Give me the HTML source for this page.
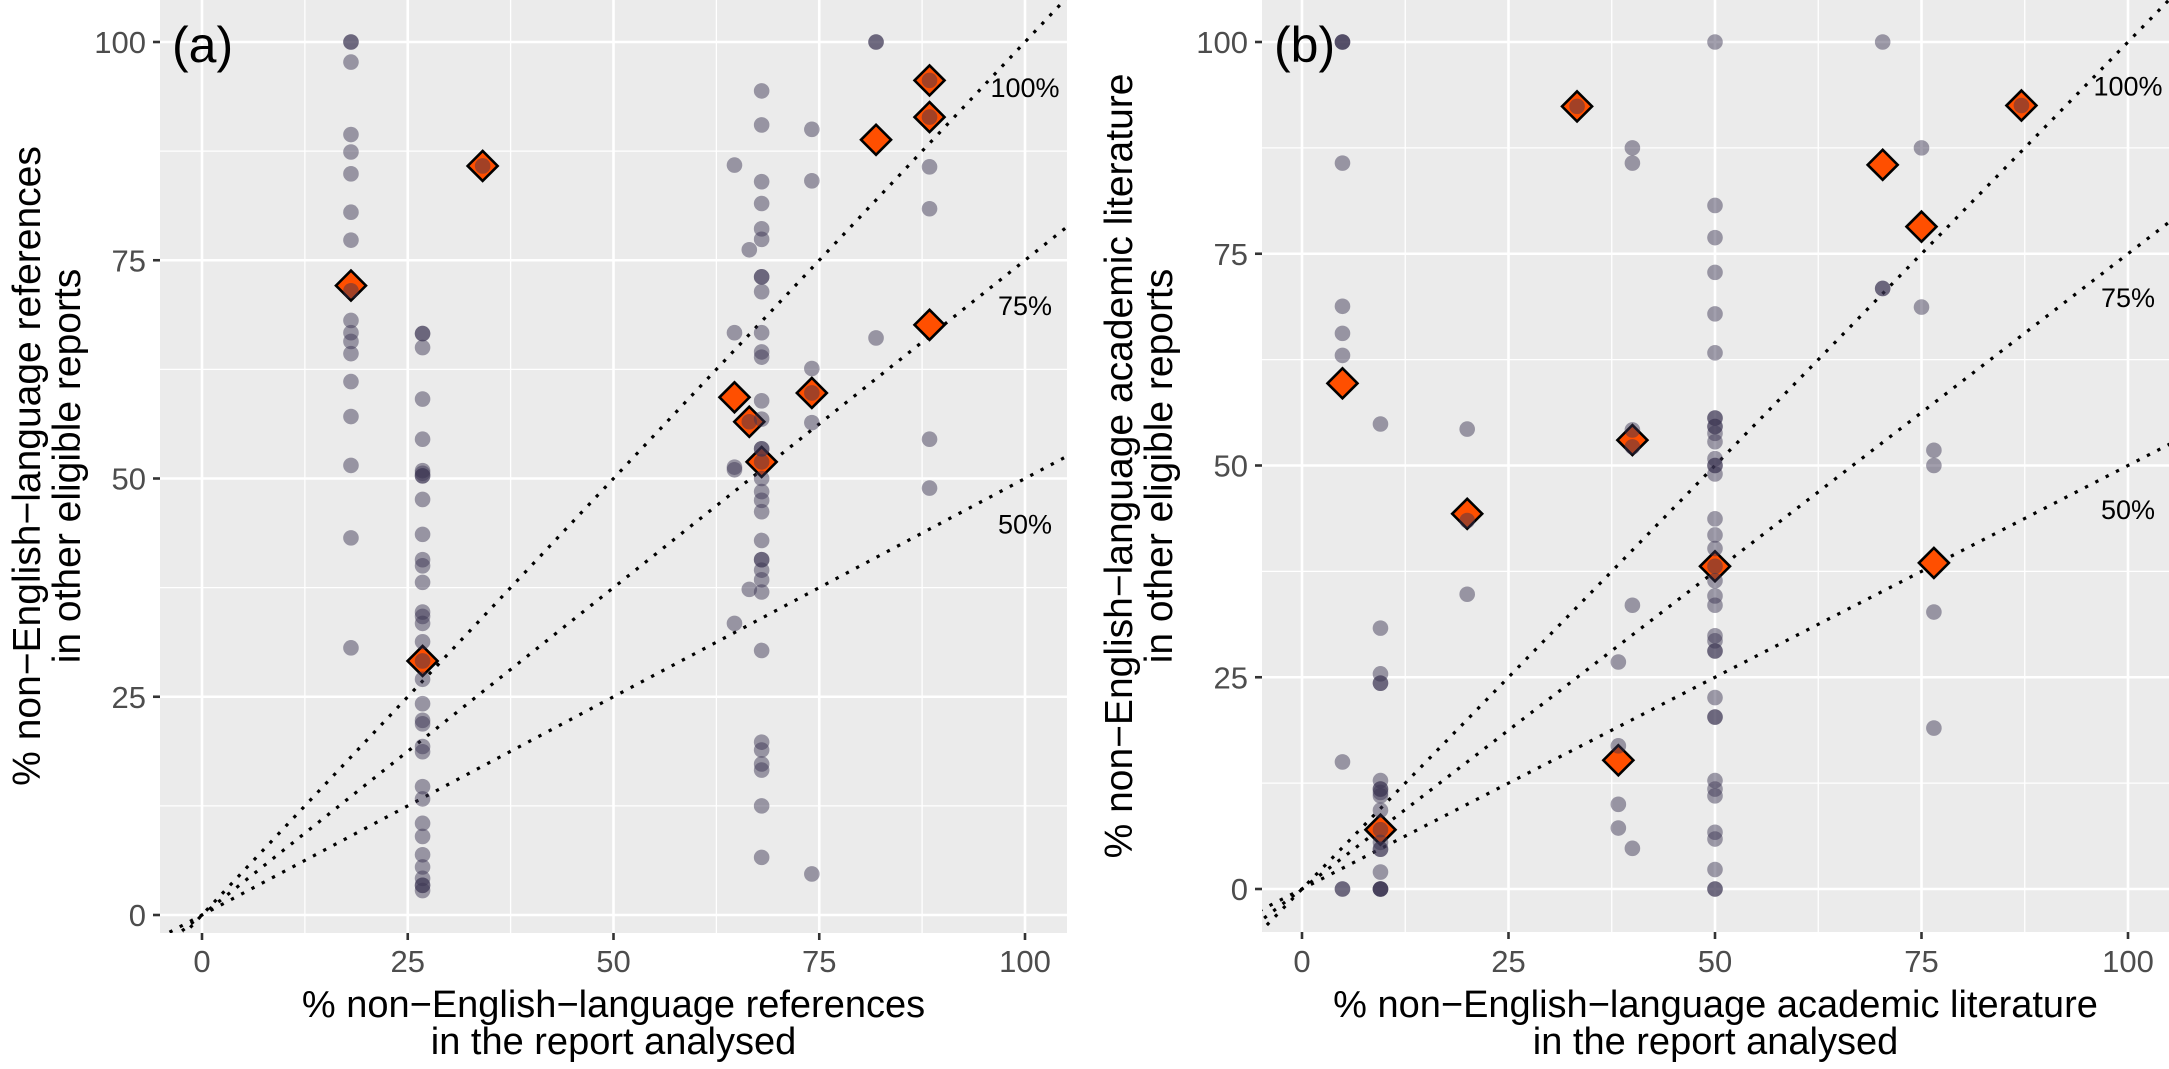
<!DOCTYPE html>
<html><head><meta charset="utf-8"><style>
html,body{margin:0;padding:0;background:#fff;}
svg{display:block;}
text{font-family:"Liberation Sans",sans-serif;}
</style></head><body>
<svg id="s" width="2169" height="1069" xmlns="http://www.w3.org/2000/svg">
<defs>
<clipPath id="ca"><rect x="160" y="0" width="907" height="933"/></clipPath>
<clipPath id="cb"><rect x="1262" y="0" width="907" height="932"/></clipPath>
</defs>
<g id="ga"></g><g id="gb"></g>
</svg>
<script>
var NS="http://www.w3.org/2000/svg";
function el(p,t,a,txt){var e=document.createElementNS(NS,t);for(var k in a)e.setAttribute(k,a[k]);if(txt!==undefined)e.textContent=txt;p.appendChild(e);return e;}
function panel(g,cfg){
  var X=function(x){return cfg.x0+cfg.sx*x;}, Y=function(y){return cfg.y0-cfg.sy*y;};
  el(g,'rect',{x:cfg.L,y:0,width:cfg.R-cfg.L,height:cfg.B,fill:'#ebebeb'});
  var c=el(g,'g',{'clip-path':'url(#'+cfg.clip+')'});
  for(var v=-12.5;v<=112.5;v+=12.5){
    var maj=(v%25===0);
    el(c,'line',{x1:X(v),x2:X(v),y1:0,y2:cfg.B,stroke:'#fff','stroke-width':maj?2.6:1.3});
    el(c,'line',{x1:cfg.L,x2:cfg.R,y1:Y(v),y2:Y(v),stroke:'#fff','stroke-width':maj?2.6:1.3});
  }
  [1,0.75,0.5].forEach(function(s){
    el(c,'line',{x1:X(-10),y1:Y(-10*s),x2:X(110),y2:Y(110*s),stroke:'#000','stroke-width':3.2,'stroke-dasharray':'0.1 11.5','stroke-linecap':'square'});
    el(g,'text',{x:X(100),y:Y(s*100-6.3),'text-anchor':'middle','font-size':27,fill:'#000'},Math.round(s*100)+'%');
  });
  cfg.d.forEach(function(p){var x=X(p[0]),y=Y(p[1]),h=15;
    el(c,'polygon',{points:(x)+','+(y-h)+' '+(x+h)+','+y+' '+x+','+(y+h)+' '+(x-h)+','+y,fill:'#ff4f00',stroke:'#000','stroke-width':2.6});});
  cfg.p.forEach(function(col){var x=col[0];col[1].forEach(function(y){
    el(c,'circle',{cx:X(x),cy:Y(y),r:7.8,fill:'#3a3350','fill-opacity':0.47});});});
  [0,25,50,75,100].forEach(function(v){
    el(g,'line',{x1:cfg.L-7,x2:cfg.L,y1:Y(v),y2:Y(v),stroke:'#333','stroke-width':2.6});
    el(g,'text',{x:cfg.L-14,y:Y(v)+11,'text-anchor':'end','font-size':31,fill:'#4d4d4d'},v);
    el(g,'line',{x1:X(v),x2:X(v),y1:cfg.B,y2:cfg.B+7,stroke:'#333','stroke-width':2.6});
    el(g,'text',{x:X(v),y:972,'text-anchor':'middle','font-size':31,fill:'#4d4d4d'},v);
  });
  var cx=(cfg.L+cfg.R)/2;
  el(g,'text',{x:cx,y:1017,'text-anchor':'middle','font-size':38,fill:'#000'},cfg.xt[0]);
  el(g,'text',{x:cx,y:1054,'text-anchor':'middle','font-size':38,fill:'#000'},cfg.xt[1]);
  var cy=466;
  el(g,'text',{transform:'translate('+cfg.yx[0]+','+cy+') rotate(-90)','text-anchor':'middle','font-size':39,fill:'#000'},cfg.yt[0]);
  el(g,'text',{transform:'translate('+cfg.yx[1]+','+cy+') rotate(-90)','text-anchor':'middle','font-size':39,fill:'#000'},cfg.yt[1]);
  el(g,'text',{x:cfg.L+12,y:62,'font-size':50,fill:'#000'},cfg.lab);
}
panel(document.getElementById('ga'),{
  x0:202,sx:8.23,y0:915,sy:8.73,L:160,R:1067,B:933,clip:'ca',lab:'(a)',
  xt:['% non\u2212English\u2212language references','in the report analysed'],
  yt:['% non\u2212English\u2212language references','in other eligible reports'],yx:[40,80],
  d:[[18.1,72.1],[34.1,85.8],[26.8,29.1],[64.7,59.3],[66.5,56.5],[68,51.9],[74.1,59.8],[81.9,88.8],[88.4,95.6],[88.4,91.4],[88.4,67.6]],
  p:[[18.1,[100,100,97.7,89.4,87.4,84.9,80.5,77.3,71.5,68.1,66.7,65.7,64.3,61.1,57.1,51.5,43.2,30.6]],
     [26.8,[66.6,66.6,65.0,59.1,54.5,50.9,50.6,50.3,50.3,47.6,43.6,40.7,40.0,38.1,34.7,34.2,33.4,31.3,29.1,27.0,24.2,22.3,21.9,19.3,18.7,14.7,13.3,10.5,9.0,6.9,5.5,4.2,3.4,2.8,3.4]],
     [34.1,[85.8]],
     [64.7,[85.9,66.7,51.3,51.0,33.4]],
     [66.5,[76.2,56.5,37.3]],
     [68,[94.4,90.5,84.0,81.5,78.6,77.4,73.1,73.1,71.4,66.7,64.5,63.9,58.9,56.8,53.4,53.4,51.9,50.0,48.5,47.5,46.2,42.9,40.7,40.7,39.5,38.4,37.0,30.3,19.8,18.9,17.3,16.6,12.5,6.6]],
     [74.1,[90.0,84.1,62.6,59.8,56.4,4.7]],
     [81.9,[100,100,66.1]],
     [88.4,[95.6,91.4,85.7,80.9,54.5,48.9]]]
});
panel(document.getElementById('gb'),{
  x0:1302,sx:8.26,y0:889,sy:8.47,L:1262,R:2169,B:932,clip:'cb',lab:'(b)',
  xt:['% non\u2212English\u2212language academic literature','in the report analysed'],
  yt:['% non\u2212English\u2212language academic literature','in other eligible reports'],yx:[1132,1172],
  d:[[4.9,59.7],[9.5,7.0],[20,44.3],[33.3,92.4],[38.3,15.2],[40,53.0],[50,38.1],[70.3,85.5],[75,78.2],[76.5,38.5],[87.1,92.5]],
  p:[[4.9,[100,100,100,85.7,68.8,65.6,63.0,15.0,0,0]],
     [9.5,[54.9,30.8,25.4,24.3,24.3,12.8,11.8,11.8,11.4,11.0,9.3,7.0,5.5,4.7,4.7,2.0,0,0,0,0]],
     [20,[54.3,43.5,34.8]],
     [33.3,[92.4]],
     [38.3,[26.8,16.9,10.0,7.2]],
     [40,[87.5,85.7,54.2,52.2,33.5,4.8]],
     [50,[100,80.7,76.9,72.8,67.9,63.3,55.6,55.6,54.6,54.6,53.8,52.8,50,50,50.8,49.0,43.7,41.8,40.2,38.1,36.4,34.6,33.5,29.9,29.3,28.1,28.1,22.6,20.3,20.3,12.8,11.8,11.0,6.7,5.9,2.3,0,0]],
     [70.3,[100,70.9,70.9]],
     [75,[87.5,68.7]],
     [76.5,[51.8,50.0,32.7,19.0]],
     [87.1,[92.5]]]
});
</script>
</body></html>
